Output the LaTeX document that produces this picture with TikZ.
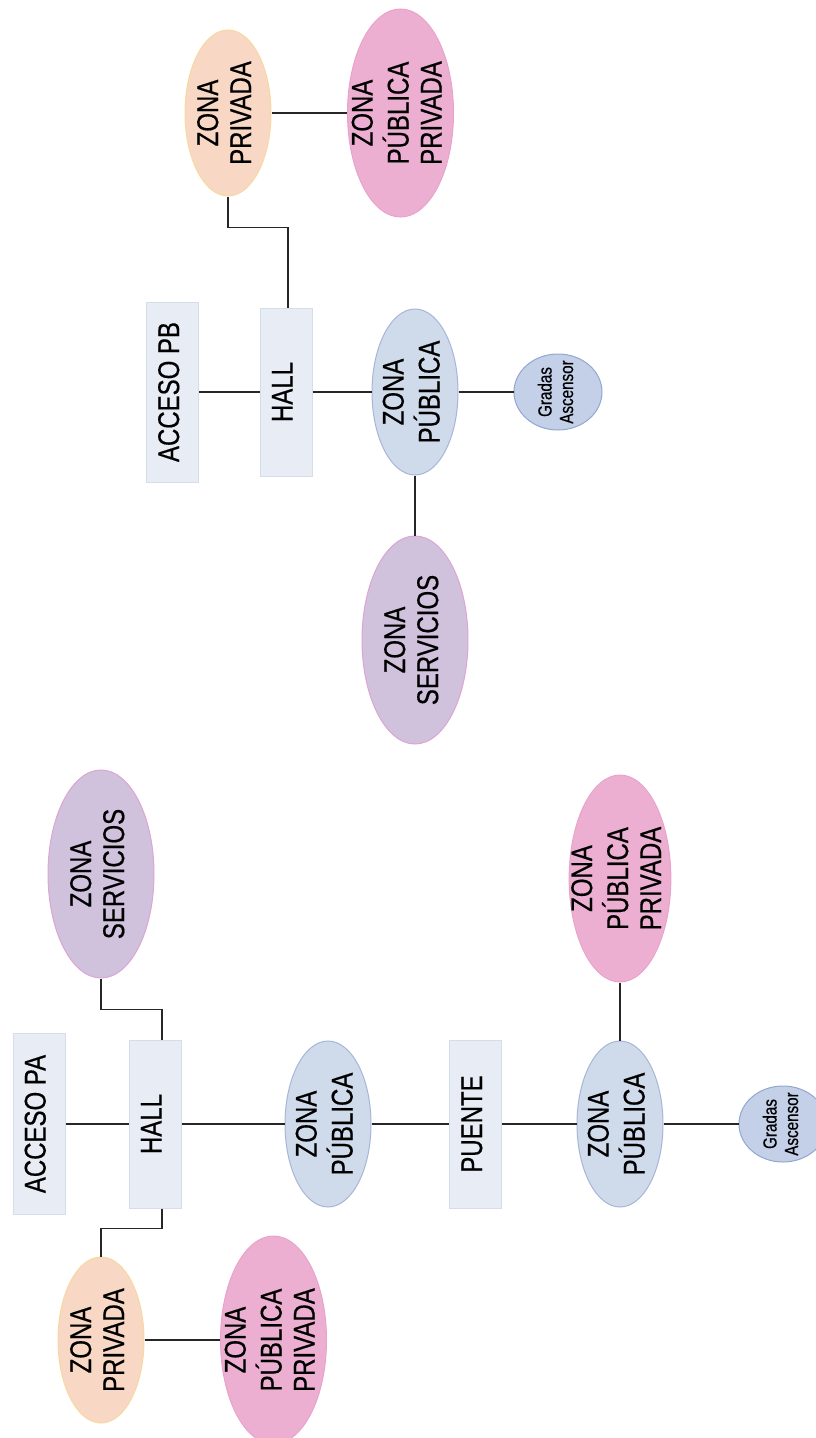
\documentclass[tikz,border=0pt]{standalone}
\usepackage{fontspec}
\newfontfamily\narrowsans[FakeStretch=0.8, FakeBold=0.5]{Liberation Sans}
\usetikzlibrary{shapes.geometric}
\definecolor{boxfill}{HTML}{E8ECF5}
\definecolor{boxline}{HTML}{D5DCEC}
\definecolor{privfill}{HTML}{F8D8C4}
\definecolor{privline}{HTML}{F6D9A0}
\definecolor{mixfill}{HTML}{ECAFD1}
\definecolor{mixline}{HTML}{E9A3CB}
\definecolor{servfill}{HTML}{D0C1DD}
\definecolor{servline}{HTML}{DCA5D4}
\definecolor{pubfill}{HTML}{CFDAEB}
\definecolor{publine}{HTML}{A7B6D6}
\definecolor{stairfill}{HTML}{C3D0E8}
\definecolor{stairline}{HTML}{93A6CF}
\newcommand{\vlabel}[1]{\rotatebox{90}{\begin{tabular}{@{}c@{}}#1\end{tabular}}}

\begin{document}
\begin{tikzpicture}[x=1pt, y=-1pt,
    every node/.style={inner sep=0pt, font=\narrowsans\fontsize{30}{33}\selectfont},
    block/.style={rectangle, draw=boxline, fill=boxfill, line width=1pt, minimum width=52pt, minimum height=168pt},
    zone/.style={ellipse, inner sep=-15pt, line width=1pt, minimum width=86pt, minimum height=166pt},
    bigzone/.style={ellipse, inner sep=-15pt, line width=1pt, minimum width=106pt, minimum height=208pt},
    pub/.style={zone, draw=publine, fill=pubfill},
    priv/.style={zone, draw=privline, fill=privfill},
    mixed/.style={bigzone, draw=mixline, fill=mixfill},
    serv/.style={bigzone, draw=servline, fill=servfill},
    stairs/.style={ellipse, inner sep=-15pt, draw=stairline, fill=stairfill, line width=1pt, minimum width=88pt, minimum height=76pt, font=\narrowsans\fontsize{19}{21.5}\selectfont},
    link/.style={draw=black!85, line width=1.3pt},
]
\useasboundingbox (0,0) rectangle (816,1438);

% planta baja
\node [block, minimum height=180pt] (accesopb) at (172.5,392) {\vlabel{ACCESO PB}};
\node [block] (hallpb) at (286,392) {\vlabel{HALL}};
\node [pub] (publicapb) at (415,392) {\vlabel{ZONA\\PÚBLICA}};
\node [stairs] (gradaspb) at (558,392) {\vlabel{Gradas\\Ascensor}};
\node [priv] (privadapb) at (228,113) {\vlabel{ZONA\\PRIVADA}};
\node [mixed] (mixtapb) at (400.5,113) {\vlabel{ZONA\\PÚBLICA\\PRIVADA}};
\node [serv] (serviciospb) at (415,640) {\vlabel{ZONA\\SERVICIOS}};

\draw [link] (accesopb) -- (hallpb) -- (publicapb) -- (gradaspb);
\draw [link] (publicapb) -- (serviciospb);
\draw [link] (privadapb) -- (mixtapb);
\draw [link] ([xshift=2pt]hallpb.north) -- ++(0,-80) -| (privadapb.south);

% planta alta
\node [block, minimum height=181pt] (accesopa) at (39,1124) {\vlabel{ACCESO PA}};
\node [block] (hallpa) at (155,1124) {\vlabel{HALL}};
\node [pub] (publicapa) at (328,1124) {\vlabel{ZONA\\PÚBLICA}};
\node [block] (puente) at (475.5,1124) {\vlabel{PUENTE}};
\node [pub] (publicapa2) at (620,1124) {\vlabel{ZONA\\PÚBLICA}};
\node [stairs] (gradaspa) at (783,1124) {\vlabel{Gradas\\Ascensor}};
\node [serv] (serviciospa) at (101,874) {\vlabel{ZONA\\SERVICIOS}};
\node [priv] (privadapa) at (101,1340) {\vlabel{ZONA\\PRIVADA}};
\node [mixed] (mixtapa) at (273.5,1340) {\vlabel{ZONA\\PÚBLICA\\PRIVADA}};
\node [mixed, minimum width=99pt, minimum height=207pt] (mixtapa2) at (620,878.5) {\vlabel{ZONA\\PÚBLICA\\PRIVADA}};

\draw [link] (accesopa) -- (hallpa) -- (publicapa) -- (puente) -- (publicapa2) -- (gradaspa);
\draw [link] (mixtapa2) -- (publicapa2);
\draw [link] (privadapa) -- (mixtapa);
\draw [link] ([xshift=7pt]hallpa.north) -- ++(0,-30) -| (serviciospa.south);
\draw [link] ([xshift=7pt]hallpa.south) -- ++(0,20) -| (privadapa.north);
\end{tikzpicture}
\end{document}
